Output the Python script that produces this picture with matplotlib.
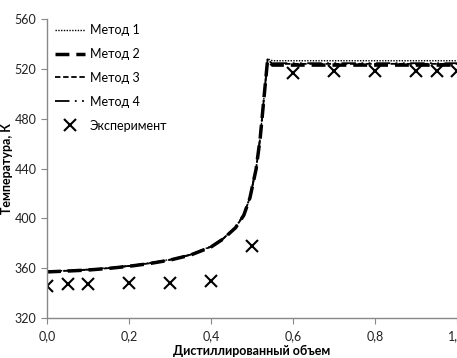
import matplotlib
matplotlib.use("Agg")
import matplotlib.pyplot as plt
from matplotlib.ticker import FixedLocator, FuncFormatter

plt.rcParams['font.family'] = ['Lato', 'DejaVu Sans']

# Calculated curves (distilled volume fraction vs temperature, K)
x_calc = [0.0, 0.05, 0.1, 0.15, 0.2, 0.25, 0.3, 0.35, 0.4, 0.43, 0.46, 0.48, 0.495, 0.51, 0.52, 0.53, 0.538, 0.55, 0.6, 0.7, 0.8, 0.9, 1.0]
t_method1 = [357.5, 358.2, 359.0, 360.3, 362.0, 364.2, 367.0, 371.0, 377.5, 384.0, 393.0, 403.0, 417.0, 440.0, 465.0, 500.0, 528.0, 526.5, 526.5, 526.5, 526.5, 526.5, 526.5]
t_method2 = [357.0, 357.7, 358.5, 359.8, 361.5, 363.7, 366.5, 370.5, 377.0, 383.5, 392.5, 402.5, 416.5, 439.5, 464.5, 499.5, 527.0, 523.0, 523.0, 523.0, 523.0, 523.0, 523.0]
t_method3 = [357.2, 357.9, 358.7, 360.0, 361.7, 363.9, 366.7, 370.7, 377.2, 383.7, 392.7, 402.7, 416.7, 439.7, 464.7, 499.7, 527.5, 524.0, 524.0, 524.0, 524.0, 524.0, 524.0]
t_method4 = [357.3, 358.0, 358.8, 360.1, 361.8, 364.0, 366.8, 370.8, 377.3, 383.8, 392.8, 402.8, 416.8, 439.8, 464.8, 499.8, 527.5, 524.5, 524.5, 524.5, 524.5, 524.5, 524.5]

# Experiment
x_exp = [0.0, 0.05, 0.1, 0.2, 0.3, 0.4, 0.5, 0.6, 0.7, 0.8, 0.9, 0.95, 1.0]
t_exp = [346, 347.5, 347.5, 348, 348, 349.5, 378, 517, 518, 518, 518, 518, 518]

labels = ['Метод 1', 'Метод 2', 'Метод 3', 'Метод 4', 'Эксперимент']
x_ticks = [0.0, 0.2, 0.4, 0.6, 0.8, 1.0]
y_ticks = [320, 360, 400, 440, 480, 520, 560]

fig = plt.figure(figsize=(4.57, 3.58), dpi=100)
ax = fig.add_axes([47/457, 1 - 318/358, 410/457, (318 - 19)/358])

ax.plot(x_calc, t_method1, color='black', lw=1.0, linestyle=(0, (1, 1)), label=labels[0])
ax.plot(x_calc, t_method2, color='black', lw=2.5, linestyle=(0, (4, 2)), label=labels[1])
ax.plot(x_calc, t_method3, color='black', lw=1.3, linestyle=(0, (3, 1.5)), label=labels[2])
ax.plot(x_calc, t_method4, color='black', lw=1.3, linestyle=(0, (8, 3, 1, 3, 1, 3)), label=labels[3])
ax.plot(x_exp, t_exp, linestyle='none', marker='x', color='black', markersize=8, markeredgewidth=1.5, label=labels[4])

ax.set_xlim(0, 1.0)
ax.set_ylim(320, 560)
ax.xaxis.set_major_locator(FixedLocator(x_ticks))
ax.yaxis.set_major_locator(FixedLocator(y_ticks))
ax.xaxis.set_major_formatter(FuncFormatter(lambda v, p: f"{v:.1f}".replace('.', ',')))
ax.yaxis.set_major_formatter(FuncFormatter(lambda v, p: f"{int(v)}"))

for s in ['top', 'right']:
    ax.spines[s].set_visible(False)
for s in ['left', 'bottom']:
    ax.spines[s].set_color('#888888')
    ax.spines[s].set_linewidth(1.0)
ax.tick_params(axis='both', direction='out', length=4, color='#888888', labelsize=9, labelcolor='#222222')
ax.tick_params(axis='x', pad=5)

ax.set_xlabel('Дистиллированный объем', fontsize=9, fontweight='bold', labelpad=2)
ax.set_ylabel('Температура, К', fontsize=9, fontweight='bold', labelpad=1)

leg = ax.legend(loc='upper left', bbox_to_anchor=(0.007, 1.0), borderaxespad=0, frameon=False, fontsize=9,
                handlelength=2.4, labelspacing=0.95, handletextpad=0.4)

fig.savefig('out.png', dpi=100)
